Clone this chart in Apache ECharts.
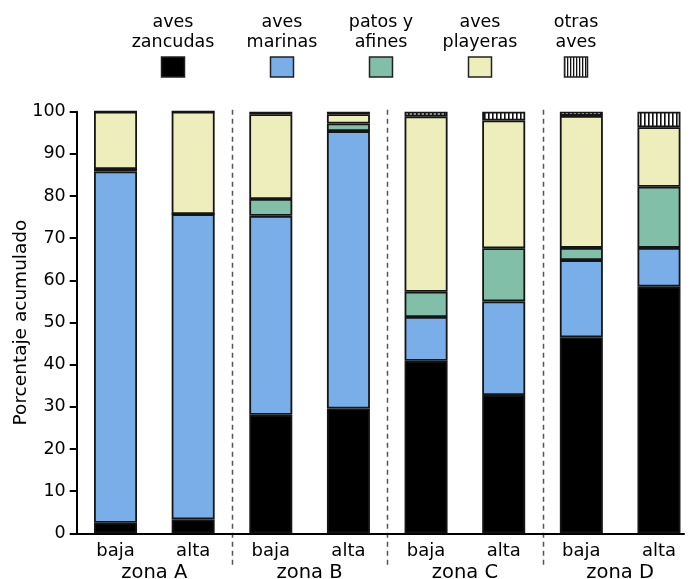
<!DOCTYPE html>
<html><head><meta charset="utf-8">
<script src="https://cdn.jsdelivr.net/npm/echarts@6/dist/echarts.min.js"></script>
<style>html,body{margin:0;padding:0;background:#fff}#c{width:691px;height:579px}</style>
</head><body><div id="c"></div>
<script>
// ---- data ----
const categories = ['baja','alta','baja','alta','baja','alta','baja','alta'];
const zones = ['zona A','zona B','zona C','zona D'];
const seriesNames = ['aves zancudas','aves marinas','patos y afines','aves playeras','otras aves'];
const legendLabels = ['aves\nzancudas','aves\nmarinas','patos y\nafines','aves\nplayeras','otras\naves'];
const zancudas = [2.5, 3.3, 28.1, 29.6, 40.9, 32.8, 46.5, 58.5];
const marinas  = [83.3, 72.4, 47.2, 65.8, 10.4, 22.2, 18.3, 9.2];
const patos    = [0.6, 0, 4.0, 1.8, 6.0, 12.6, 2.9, 14.5];
const playeras = [13.6, 24.3, 20.1, 2.2, 41.6, 30.3, 31.3, 14.1];
const otras    = [0, 0, 0.6, 0.6, 1.1, 2.1, 1.0, 3.7];
const yTicks = [0,10,20,30,40,50,60,70,80,90,100];
const yTitle = 'Porcentaje acumulado';

const FONT = 'DejaVu Sans';
function stripes(pitch, w, h){
  const c = document.createElement('canvas'); c.width = pitch; c.height = h;
  const g = c.getContext('2d');
  g.fillStyle = '#fff'; g.fillRect(0,0,pitch,h);
  g.fillStyle = '#111'; g.fillRect(0,0,w,h);
  return c;
}
const stripeFill = {image: stripes(4, 1.6, 8), repeat: 'repeat'};
const stripeFillLegend = {image: stripes(3, 1.3, 8), repeat: 'repeat'};
const colors = ['#000000', '#7aaee8', '#82bfa8', '#eeeebc', stripeFill];
const legendColors = ['#000000', '#7aaee8', '#82bfa8', '#eeeebc', stripeFillLegend];
const values = [zancudas, marinas, patos, playeras, otras];
const legendCenters = [173, 282, 381, 480, 576];

const chart = echarts.init(document.getElementById('c'), null, {renderer:'canvas'});
const gridTop = 111.7, gridBottom = 45.7;
const option = {
  animation: false,
  backgroundColor: '#fff',
  textStyle: {fontFamily: FONT, color:'#000'},
  grid: [
    {left: 76.7, top: gridTop, width: 621.1, bottom: gridBottom, containLabel:false, outerBoundsMode:'none'},
    {left: 76.7, top: gridTop, right: 7, bottom: gridBottom, containLabel:false, outerBoundsMode:'none'}
  ],
  xAxis: [
    {type:'category', gridIndex:0, data: categories, boundaryGap:true,
     axisLine:{show:false}, axisTick:{show:false}, splitLine:{show:false},
     axisLabel:{fontSize:18, color:'#000', margin:9, fontFamily:FONT, interval:0}},
    {type:'category', gridIndex:0, data: zones, position:'bottom', boundaryGap:true,
     axisLine:{show:false}, axisTick:{show:false}, splitLine:{show:false},
     axisLabel:{fontSize:19.5, color:'#000', margin:30, fontFamily:FONT, interval:0}},
    {type:'value', gridIndex:1, min:0, max:1, show:true,
     axisLine:{show:true, onZero:false, lineStyle:{color:'#000', width:2}},
     axisTick:{show:false}, axisLabel:{show:false}, splitLine:{show:false}}
  ],
  yAxis: [
    {type:'value', gridIndex:0, min:yTicks[0], max:yTicks[yTicks.length-1], interval:10,
     axisLine:{show:true, lineStyle:{color:'#000', width:2}},
     axisTick:{show:true, length:7, lineStyle:{color:'#000', width:2}},
     axisLabel:{fontSize:17.5, color:'#000', margin:11, fontFamily:FONT},
     splitLine:{show:false},
     name: yTitle, nameLocation:'middle', nameGap:46, nameMoveOverlap:false,
     nameTextStyle:{fontSize:18.5, color:'#000', fontFamily:FONT}},
    {type:'value', gridIndex:1, show:false, min:0, max:1}
  ],
  series: seriesNames.map((n,i)=>({
    name:n, type:'bar', stack:'total', xAxisIndex:0, yAxisIndex:0,
    barWidth:43, data: values[i],
    itemStyle:{color: colors[i], borderColor:'#151515', borderWidth:1.8},
    emphasis:{disabled:true}
  }))
};
chart.setOption(option);

// separators & legend built from axis scales
const px = i => chart.convertToPixel({xAxisIndex:0}, i);
const yTop = chart.convertToPixel({yAxisIndex:0}, 100);
const graphics = [];
[2,4,6].forEach(i=>{
  const x = Math.round((px(i-1)+px(i))/2) + 0.5;
  graphics.push({type:'line', silent:true, shape:{x1:x, y1:yTop-2, x2:x, y2:568},
    style:{stroke:'#555', lineWidth:1.5, lineDash:[5,4]}});
});
legendLabels.forEach((t,i)=>{
  const cx = legendCenters[i];
  graphics.push({type:'text', silent:true, x:cx, y:32,
    style:{text:t, fill:'#000', font:'17.5px "'+FONT+'"', align:'center', verticalAlign:'middle', lineHeight:20}});
  graphics.push({type:'rect', silent:true, shape:{x:cx-11.5, y:57, width:23, height:20},
    style:{fill: legendColors[i], stroke:'#222', lineWidth:1.5}});
});
chart.setOption({graphic: graphics});
</script></body></html>
